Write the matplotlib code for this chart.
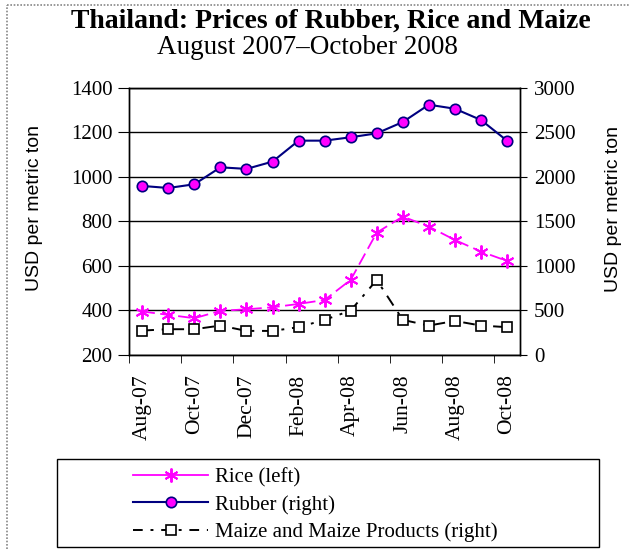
import matplotlib
matplotlib.use("Agg")
import matplotlib.pyplot as plt
from matplotlib.lines import Line2D
from matplotlib.patches import Rectangle
import numpy as np

months = ["Aug-07", "Sep-07", "Oct-07", "Nov-07", "Dec-07", "Jan-08", "Feb-08", "Mar-08",
          "Apr-08", "May-08", "Jun-08", "Jul-08", "Aug-08", "Sep-08", "Oct-08"]
rice = [395, 380, 365, 398, 405, 414, 429, 447, 537, 749, 821, 776, 716, 664, 622]
rubber = [1896, 1873, 1915, 2105, 2087, 2169, 2404, 2404, 2442, 2486, 2613, 2807, 2762, 2636, 2404]
maize = [274, 289, 289, 330, 270, 270, 312, 394, 498, 842, 394, 330, 382, 330, 312]

SERIF = "Liberation Serif"
SANS = "Liberation Sans"
MAG = "#FF00FF"
NAVY = "#000080"
STAR = (6, 2, 0)  # sechsarmiger Stern wie im Original

fig = plt.figure(figsize=(6.3, 5.49), dpi=100)
ax = fig.add_axes([0.2052, 0.3534, 0.6202, 0.4872])
ax2 = ax.twinx()

x = np.arange(len(months))

ax.plot(x, rice, color=MAG, lw=1.3, ls=(0, (7, 3)), marker=STAR, ms=10, mew=1.4,
        mec=MAG, zorder=4)
ax2.plot(x, rubber, color=NAVY, lw=1.5, marker="o", ms=7.5, mfc=MAG, mec=NAVY, mew=1.2, zorder=4)
ax2.plot(x, maize, color="black", lw=1.4, ls=(0, (6, 4, 1.5, 4)), marker="s", ms=7.5,
         mfc="white", mec="black", mew=1.2, zorder=3)

ax.set_xlim(-0.5, len(months) - 0.5)
ax.set_ylim(200, 1400)
ax2.set_ylim(0, 3000)
ax.set_yticks(range(200, 1401, 200))
ax2.set_yticks(range(0, 3001, 500))
ax.grid(axis="y", color="black", lw=1.0)
ax.set_axisbelow(True)

ax.set_xticks(x[::2])
ax.set_xticklabels(months[::2], rotation=90, fontsize=15.5, family=SERIF)
ax.set_xticks(np.arange(-0.5, len(months) - 1, 2), minor=True)
ax.tick_params(axis="x", which="major", length=0, pad=14)
ax.tick_params(axis="x", which="minor", length=6, direction="out", color="black")
ax.tick_params(axis="y", length=8, direction="out", labelsize=15, pad=4)
ax2.tick_params(axis="y", length=5, direction="out", labelsize=15, pad=5)
for lab in ax.get_yticklabels() + ax2.get_yticklabels():
    lab.set_family(SERIF)

for a in (ax, ax2):
    for s in a.spines.values():
        s.set_color("black")
        s.set_linewidth(1.0)

fig.text(35 / 630, 1 - 208 / 549, "USD per metric ton", rotation=90, ha="center",
         va="center", fontsize=14, family=SANS)
fig.text(613 / 630, 1 - 209 / 549, "USD per metric ton", rotation=90, ha="center",
         va="center", fontsize=14, family=SANS)

fig.text(331 / 630, 0.962, "Thailand: Prices of Rubber, Rice and Maize", ha="center",
         va="center", fontsize=20, fontweight="bold", family=SERIF)
fig.text(307 / 630, 0.913, "August 2007\u2013October 2008", ha="center", va="center",
         fontsize=19.5, family=SERIF)

handles = [
    Line2D([], [], color=MAG, lw=1.3, marker=STAR, ms=10, mew=1.4),
    Line2D([], [], color=NAVY, lw=1.5, marker="o", ms=7.5, mfc=MAG, mec=NAVY, mew=1.2),
    Line2D([], [], color="black", lw=1.4, ls=(0, (5, 4, 1.5, 4)), marker="s", ms=7.5,
           mfc="white", mec="black", mew=1.2),
]
labels = ["Rice (left)", "Rubber (right)", "Maize and Maize Products (right)"]
fig.add_artist(Rectangle((57 / 630, 2 / 549), 542 / 630, 88 / 549, transform=fig.transFigure,
                         fill=False, ec="black", lw=1.0))
fig.legend(handles, labels, loc="center left", bbox_to_anchor=(133 / 630, 1 - 505 / 549),
           frameon=False, prop={"family": SERIF, "size": 15}, handlelength=3.6,
           handletextpad=0.33, labelspacing=0.35, borderpad=0, borderaxespad=0)

# gepunkteter Rahmen links, graue Linie oben
fig.add_artist(Line2D([7 / 630, 7 / 630], [0, 1 - 5 / 549], transform=fig.transFigure,
                      color="#888888", lw=1.2, ls=(0, (1, 1))))
fig.add_artist(Line2D([7 / 630, 1], [1 - 5 / 549, 1 - 5 / 549], transform=fig.transFigure,
                      color="#888888", lw=1.2, ls=(0, (1, 1))))

fig.savefig("out.png", dpi=100)
